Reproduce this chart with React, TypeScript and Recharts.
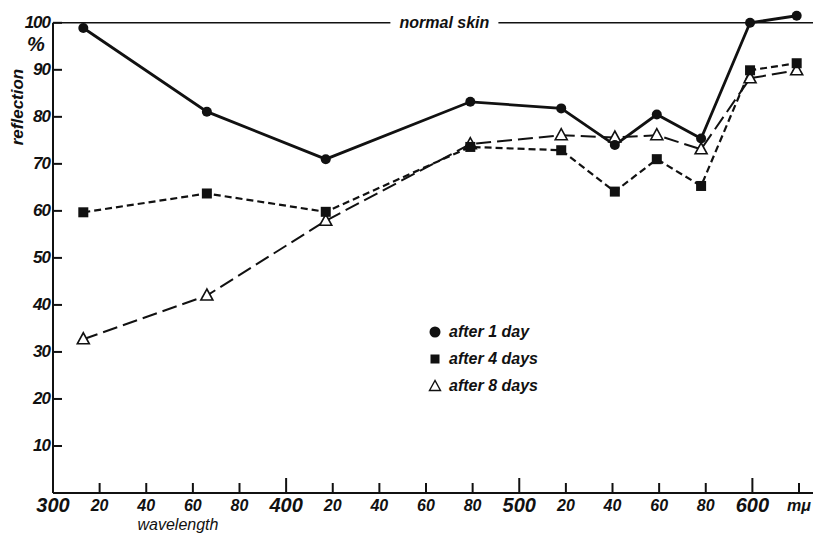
import { LineChart, Line, XAxis, YAxis, ReferenceLine, Legend } from "recharts"

// wavelength in mμ
const wavelengths = [313, 366, 417, 479, 518, 541, 559, 578, 599, 619]

// reflection in % of normal skin
const after1Day = [98.9, 81.1, 71.0, 83.2, 81.8, 74.0, 80.5, 75.4, 100, 101.5]
const after4Days = [59.7, 63.7, 59.8, 73.6, 72.9, 64.1, 71.0, 65.3, 89.9, 91.4]
const after8Days = [32.7, 42.0, 57.9, 74.2, 76.1, 75.6, 76.1, 73.1, 88.2, 89.9]

const xTicks = [300, 320, 340, 360, 380, 400, 420, 440, 460, 480, 500, 520, 540, 560, 580, 600, 620]
const yTicks = [10, 20, 30, 40, 50, 60, 70, 80, 90, 100]

const seriesNames = ["after 1 day", "after 4 days", "after 8 days"]

const data = wavelengths.map((w, i) => ({
  w,
  d1: after1Day[i],
  d4: after4Days[i],
  d8: after8Days[i],
}))

const INK = "#111"
const FONT = "'Liberation Sans', Arial, sans-serif"

function xLabel(v: number) {
  if (v === 620) return "mμ"
  if (v % 100 === 0) return String(v)
  return String(v % 100)
}

function XTick({ x, y, payload }: any) {
  const v = payload.value
  const major = v % 100 === 0
  const len = major ? 15 : 10
  return (
    <g>
      {v !== 300 && <line x1={x} x2={x} y1={y - len} y2={y} stroke={INK} strokeWidth={2} />}
      <text
        x={x}
        y={y + 12}
        textAnchor="middle"
        dominantBaseline="central"
        fontFamily={FONT}
        fontWeight="bold"
        fontStyle="italic"
        fontSize={major ? 20 : 16}
        fill={INK}
      >
        {xLabel(v)}
      </text>
    </g>
  )
}

function YTick({ x, y, payload }: any) {
  return (
    <g>
      <line x1={x} x2={x + 9} y1={y} y2={y} stroke={INK} strokeWidth={2} />
      <text
        x={x - 3}
        y={y}
        textAnchor="end"
        dominantBaseline="central"
        fontFamily={FONT}
        fontWeight="bold"
        fontStyle="italic"
        fontSize={17}
        fill={INK}
        letterSpacing={-1}
      >
        {payload.value}
      </text>
    </g>
  )
}

function CircleDot({ cx, cy, index }: any) {
  return <circle key={`c${index}`} cx={cx} cy={cy} r={5} fill={INK} />
}

function SquareDot({ cx, cy, index }: any) {
  return <rect key={`s${index}`} x={cx - 5} y={cy - 5} width={10} height={10} fill={INK} />
}

function TriangleDot({ cx, cy, index }: any) {
  return (
    <path
      key={`t${index}`}
      d={`M${cx},${cy - 6.5} L${cx - 6},${cy + 4.5} L${cx + 6},${cy + 4.5} Z`}
      fill="#fff"
      stroke={INK}
      strokeWidth={1.6}
    />
  )
}

function NormalSkinLabel({ viewBox }: any) {
  const cx = viewBox.x + viewBox.width * 0.515
  return (
    <g>
      <rect x={cx - 54} y={viewBox.y - 9} width={108} height={18} fill="#fff" />
      <text
        x={cx}
        y={viewBox.y}
        textAnchor="middle"
        dominantBaseline="central"
        fontFamily={FONT}
        fontWeight="bold"
        fontStyle="italic"
        fontSize={16}
        fill={INK}
      >
        normal skin
      </text>
    </g>
  )
}

function LegendContent() {
  const markers = [
    <circle cx={7} cy={7} r={5.5} fill={INK} />,
    <rect x={2.5} y={2.5} width={9} height={9} fill={INK} />,
    <path d="M7,1.5 L1.5,11.5 L12.5,11.5 Z" fill="#fff" stroke={INK} strokeWidth={1.4} />,
  ]
  return (
    <div style={{ fontFamily: FONT, fontWeight: "bold", fontStyle: "italic", fontSize: 16, color: INK }}>
      {seriesNames.map((name, i) => (
        <div key={name} style={{ display: "flex", alignItems: "center", height: 27 }}>
          <svg width={14} height={14} style={{ marginRight: 7 }}>
            {markers[i]}
          </svg>
          <span>{name}</span>
        </div>
      ))}
    </div>
  )
}

export default function App() {
  return (
    <div style={{ position: "absolute", left: 0, top: 0, width: 813, height: 533, background: "#fff" }}>
      <LineChart width={813} height={533} data={data} margin={{ top: 4, right: 0, left: 0, bottom: 0 }}>
        <XAxis
          dataKey="w"
          type="number"
          domain={[300, 626]}
          ticks={xTicks}
          allowDataOverflow
          height={40}
          tickSize={0}
          tickMargin={0}
          tickLine={false}
          axisLine={{ stroke: INK, strokeWidth: 2 }}
          tick={<XTick />}
          interval={0}
        />
        <YAxis
          type="number"
          domain={[0, 104]}
          ticks={yTicks}
          allowDataOverflow
          width={53}
          tickSize={0}
          tickMargin={0}
          tickLine={false}
          axisLine={false}
          tick={<YTick />}
          interval={0}
        />
        <ReferenceLine
          segment={[
            { x: 300, y: 0 },
            { x: 300, y: 100 },
          ]}
          stroke={INK}
          strokeWidth={2}
        />
        <ReferenceLine y={100} stroke={INK} strokeWidth={1.5} label={<NormalSkinLabel />} />
        <Legend
          content={<LegendContent />}
          layout="horizontal"
          verticalAlign="middle"
          align="center"
          wrapperStyle={{ left: 428, top: 318, width: 170 }}
        />
        <Line
          dataKey="d8"
          name={seriesNames[2]}
          stroke={INK}
          strokeWidth={2}
          strokeDasharray="15 6"
          dot={<TriangleDot />}
          isAnimationActive={false}
        />
        <Line
          dataKey="d4"
          name={seriesNames[1]}
          stroke={INK}
          strokeWidth={2.2}
          strokeDasharray="7 4"
          dot={<SquareDot />}
          isAnimationActive={false}
        />
        <Line
          dataKey="d1"
          name={seriesNames[0]}
          stroke={INK}
          strokeWidth={2.8}
          dot={<CircleDot />}
          isAnimationActive={false}
        />
        <text x={36} y={44} textAnchor="middle" dominantBaseline="central" fontFamily={FONT} fontWeight="bold" fontStyle="italic" fontSize={20} fill={INK}>
          %
        </text>
        <text
          x={17}
          y={107}
          textAnchor="middle"
          dominantBaseline="central"
          transform="rotate(-90, 17, 107)"
          fontFamily={FONT}
          fontWeight="bold"
          fontStyle="italic"
          fontSize={17}
          fill={INK}
        >
          reflection
        </text>
        <text x={178} y={524} textAnchor="middle" dominantBaseline="central" fontFamily={FONT} fontStyle="italic" fontSize={16} fill={INK}>
          wavelength
        </text>
      </LineChart>
    </div>
  )
}
